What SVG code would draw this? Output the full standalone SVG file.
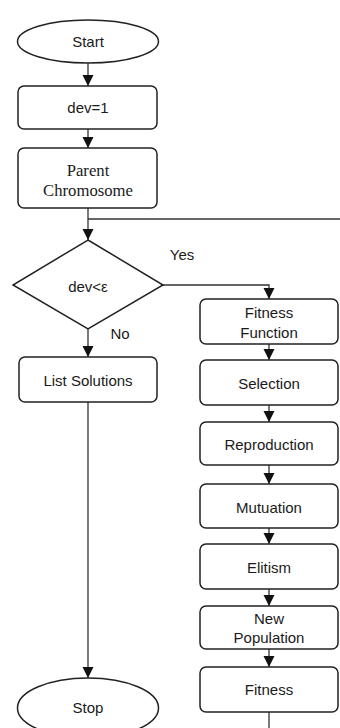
<svg xmlns="http://www.w3.org/2000/svg" width="340" height="728" viewBox="0 0 340 728">
<style>
.box{fill:#fff;stroke:#222;stroke-width:1.5}
.ln{fill:none;stroke:#333;stroke-width:1.3}
.t{font-family:"Liberation Sans",Arial,sans-serif;font-size:15px;fill:#1a1a1a;text-anchor:middle}
.s{font-family:"Liberation Serif","Times New Roman",serif;font-size:16.7px;fill:#1a1a1a;text-anchor:middle}
</style>
<defs>
<marker id="ah" markerUnits="userSpaceOnUse" markerWidth="12" markerHeight="12" viewBox="0 0 12 12" refX="11" refY="6" orient="auto">
<path d="M0,0.5 L11,6 L0,11.5 Z" fill="#111"/>
</marker>
</defs>
<rect width="340" height="728" fill="#fff"/>
<g id="connectors">
<path class="ln" d="M88,63 V86" marker-end="url(#ah)"/>
<path class="ln" d="M88,129 V148" marker-end="url(#ah)"/>
<path class="ln" d="M88,208 V240" marker-end="url(#ah)"/>
<path class="ln" d="M88,219 H340"/>
<path class="ln" d="M163,285 H269 V299" marker-end="url(#ah)"/>
<path class="ln" d="M88,329 V357" marker-end="url(#ah)"/>
<path class="ln" d="M88,402 V678" marker-end="url(#ah)"/>
<path class="ln" d="M269,344 V360" marker-end="url(#ah)"/>
<path class="ln" d="M269,405 V422" marker-end="url(#ah)"/>
<path class="ln" d="M269,465 V484" marker-end="url(#ah)"/>
<path class="ln" d="M269,528 V544" marker-end="url(#ah)"/>
<path class="ln" d="M269,589 V606" marker-end="url(#ah)"/>
<path class="ln" d="M269,649 V667" marker-end="url(#ah)"/>
<path class="ln" d="M269,712 V728"/>
<text class="t" x="182" y="260">Yes</text>
<text class="t" x="120" y="339">No</text>
</g>
<g id="start"><ellipse class="box" cx="88" cy="41.5" rx="70.5" ry="21.5"/><text class="t" x="88" y="47">Start</text></g>
<g id="dev1"><rect class="box" x="18" y="86" width="139" height="43" rx="6"/><text class="t" x="88" y="113">dev=1</text></g>
<g id="parent"><rect class="box" x="18" y="148" width="139" height="60" rx="6"/><text class="s" x="88" y="176">Parent</text><text class="s" x="88" y="196">Chromosome</text></g>
<g id="decision"><polygon class="box" points="88,240 163,285 88,329 13,285"/><text class="t" x="88" y="292">dev&lt;ε</text></g>
<g id="list"><rect class="box" x="19" y="357" width="138" height="45" rx="6"/><text class="t" x="88" y="386">List Solutions</text></g>
<g id="stop"><ellipse class="box" cx="88" cy="708" rx="70.5" ry="30"/><text class="t" x="88" y="713">Stop</text></g>
<g id="fitnessfunction"><rect class="box" x="200" y="299" width="138" height="45" rx="6"/><text class="t" x="269" y="318">Fitness</text><text class="t" x="269" y="338">Function</text></g>
<g id="selection"><rect class="box" x="200" y="360" width="138" height="45" rx="6"/><text class="t" x="269" y="389">Selection</text></g>
<g id="reproduction"><rect class="box" x="200" y="422" width="138" height="43" rx="6"/><text class="t" x="269" y="450">Reproduction</text></g>
<g id="mutuation"><rect class="box" x="200" y="484" width="138" height="44" rx="6"/><text class="t" x="269" y="513">Mutuation</text></g>
<g id="elitism"><rect class="box" x="200" y="544" width="138" height="45" rx="6"/><text class="t" x="269" y="573">Elitism</text></g>
<g id="newpopulation"><rect class="box" x="200" y="606" width="138" height="43" rx="6"/><text class="t" x="269" y="624">New</text><text class="t" x="269" y="643">Population</text></g>
<g id="fitness"><rect class="box" x="200" y="667" width="138" height="45" rx="6"/><text class="t" x="269" y="695">Fitness</text></g>
</svg>
